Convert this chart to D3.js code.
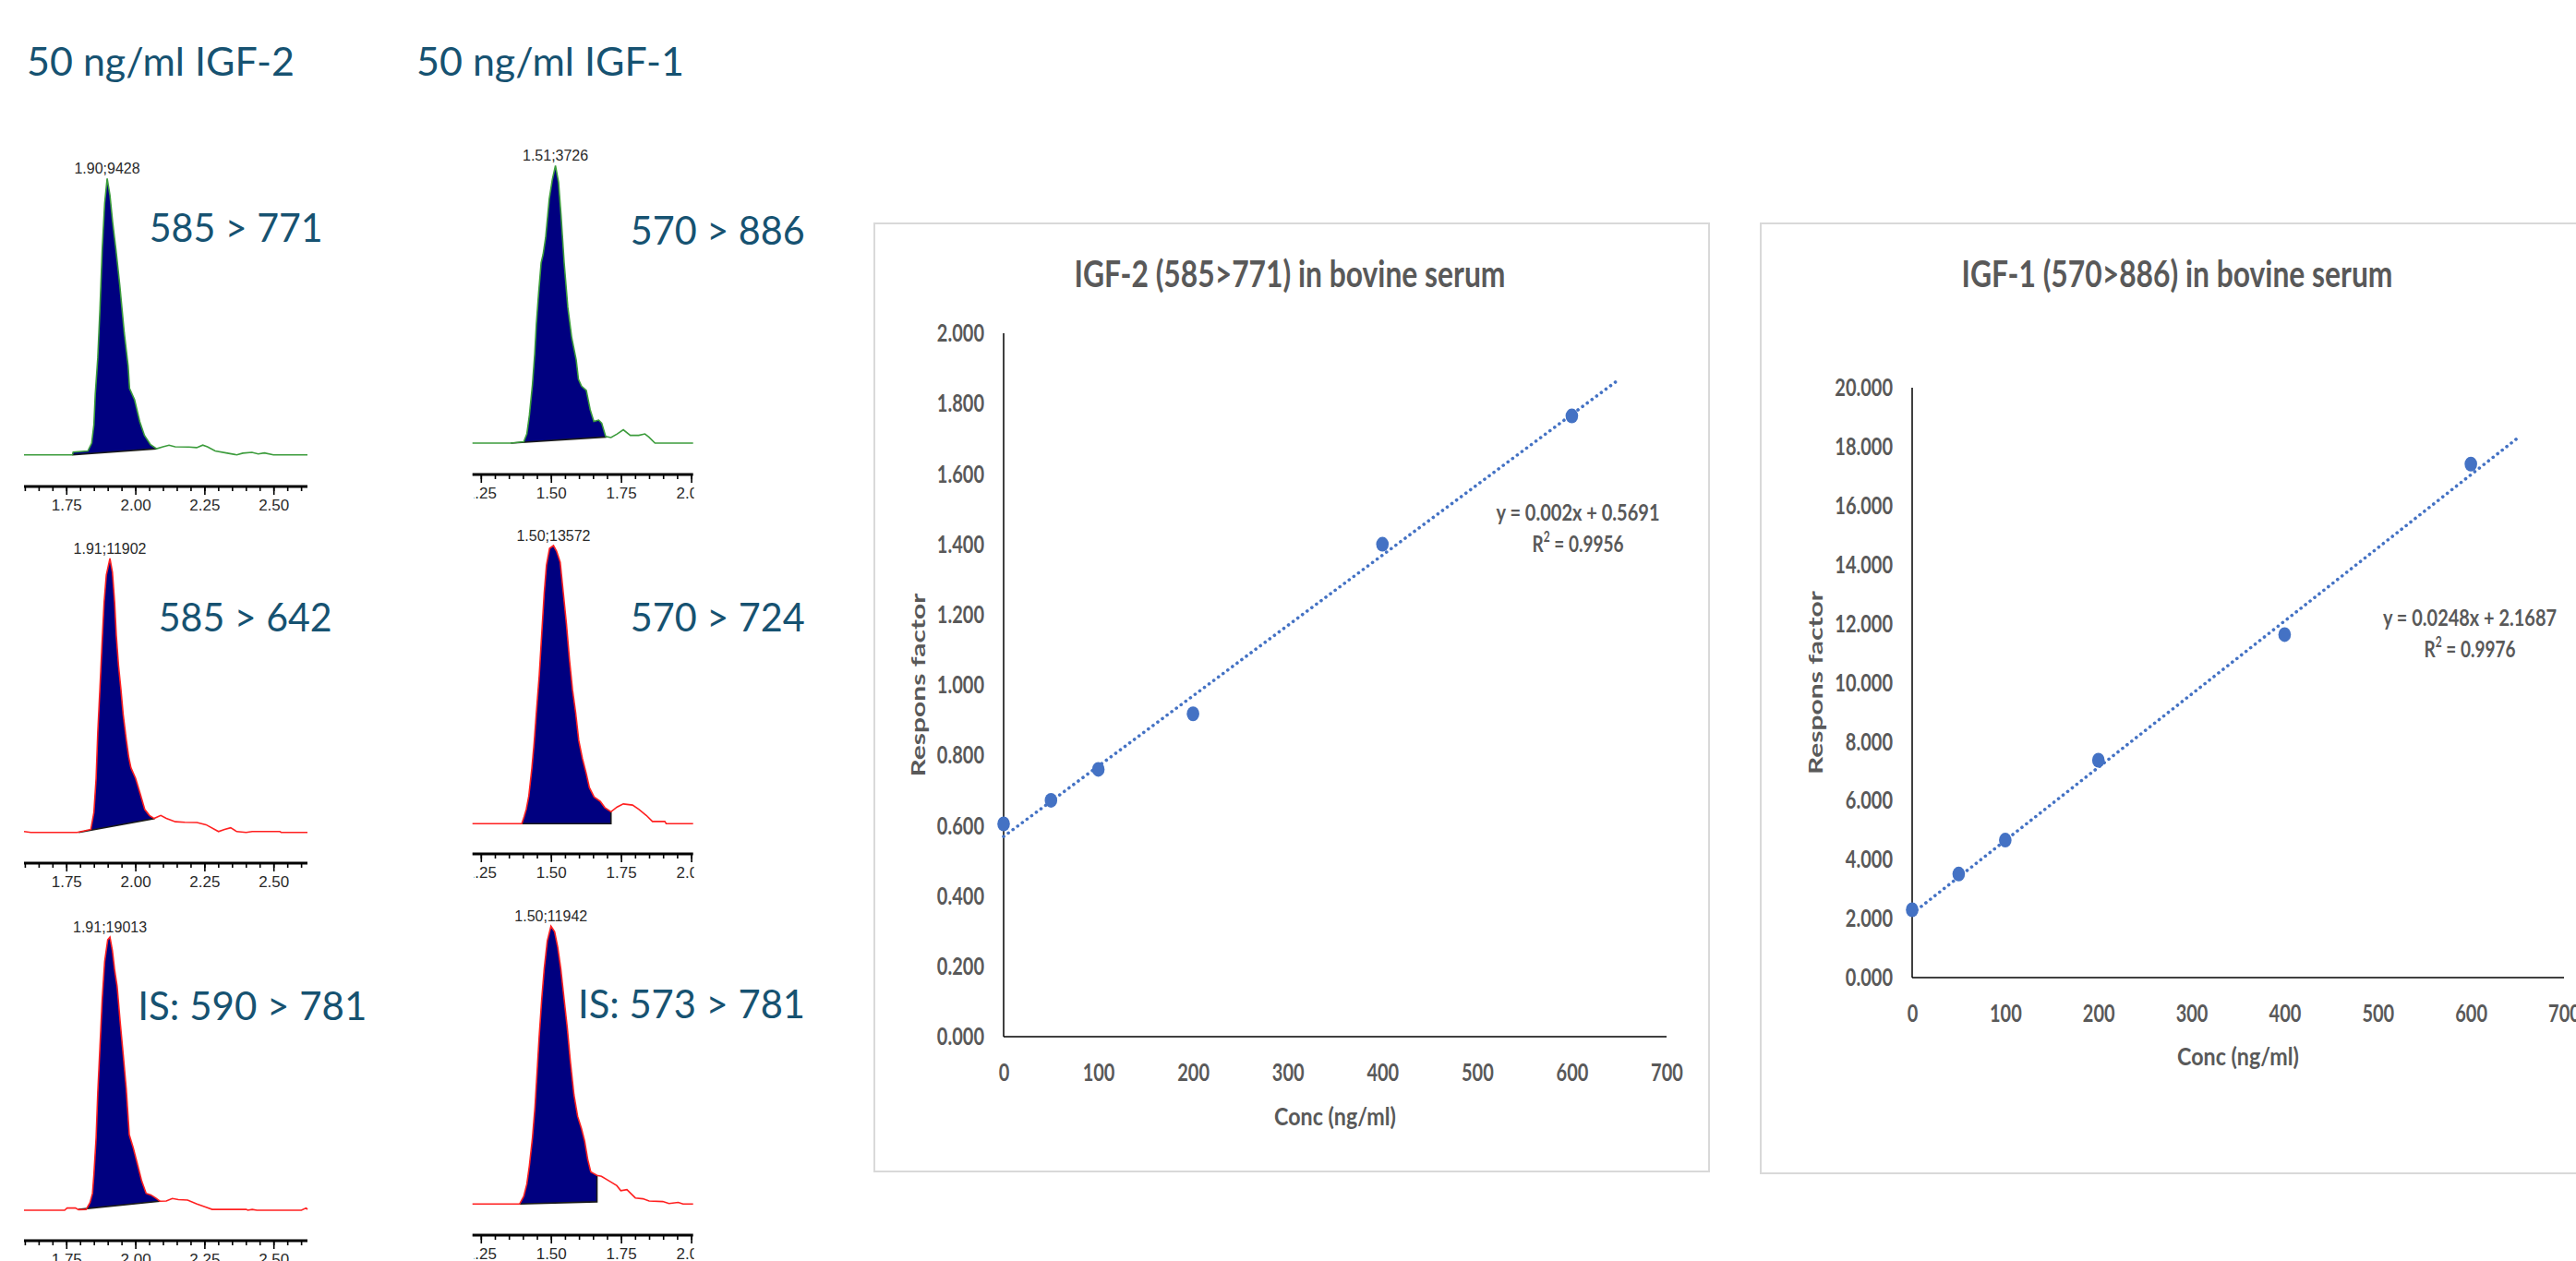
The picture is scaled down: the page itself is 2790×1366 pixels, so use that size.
<!DOCTYPE html>
<html>
<head>
<meta charset="utf-8">
<script src="https://cdn.jsdelivr.net/npm/d3@7"></script>
<style>
  body { margin: 0; background: #fff; }
  svg { display: block; }
</style>
</head>
<body>
<div id="chart"></div>
<script>
// ---- calibration data ----
const conc = [0, 50, 100, 200, 400, 600];
const igf2Resp = [0.605, 0.672, 0.760, 0.918, 1.400, 1.765];
const igf1Resp = [2.30, 3.51, 4.66, 7.37, 11.63, 17.41];
const igf2Fit = [0.002, 0.5691];     // slope, intercept
const igf1Fit = [0.0248, 2.1687];
const fitSpan = [0, 650];
const calXTicks = [0, 100, 200, 300, 400, 500, 600, 700];
const igf2YTicks = [0, 0.2, 0.4, 0.6, 0.8, 1.0, 1.2, 1.4, 1.6, 1.8, 2.0];
const igf1YTicks = [0, 2, 4, 6, 8, 10, 12, 14, 16, 18, 20];
const calTitles = ["IGF-2 (585>771) in bovine serum", "IGF-1 (570>886) in bovine serum"];
const calEquations = [["y = 0.002x + 0.5691", "0.9956"], ["y = 0.0248x + 2.1687", "0.9976"]];

// ---- chromatogram traces: [retention time (min), relative intensity %] ----
const trIgf2_771 = [[1.597,0],[1.772,0],[1.775,1],[1.828,1.4],[1.842,4.2],[1.850,10.9],[1.855,22],[1.864,35],[1.872,53],[1.880,74],[1.889,91],[1.898,100],[1.908,94],[1.918,84],[1.930,74],[1.944,61],[1.960,44],[1.974,32],[1.979,24],[1.997,20],[2.016,12],[2.033,7],[2.055,3.7],[2.077,2.2],[2.100,2.9],[2.122,3.5],[2.144,2.9],[2.194,2.8],[2.222,2.6],[2.244,3.5],[2.261,2.9],[2.289,1.4],[2.333,0.6],[2.367,0],[2.389,0.6],[2.422,0.9],[2.445,0.3],[2.467,0.7],[2.500,0],[2.623,0]];
const trIgf1_886 = [[1.220,0],[1.357,0],[1.403,0.5],[1.414,3.3],[1.423,10],[1.434,21],[1.442,32],[1.448,43],[1.456,54],[1.465,65],[1.472,68],[1.481,74],[1.494,88],[1.505,95],[1.516,100],[1.527,94],[1.536,82],[1.547,65],[1.560,49],[1.574,38],[1.590,30],[1.598,23],[1.609,20.5],[1.626,19],[1.640,12],[1.653,7.8],[1.670,8.3],[1.681,7.2],[1.695,2.4],[1.714,2.0],[1.736,3.3],[1.758,4.8],[1.783,2.8],[1.813,2.8],[1.835,3.3],[1.849,2.2],[1.871,0],[2.007,0]];
const trIgf2_642 = [[1.597,0.3],[1.622,0],[1.789,0],[1.839,1.1],[1.850,7.3],[1.858,19.7],[1.864,36.5],[1.872,53],[1.880,70],[1.887,84],[1.895,94],[1.908,100],[1.917,95],[1.925,84],[1.931,72],[1.939,61],[1.948,52],[1.956,43],[1.967,34],[1.976,27.5],[1.984,23.6],[2.001,19.7],[2.018,14],[2.034,8.4],[2.051,6.2],[2.068,5.1],[2.092,6.2],[2.112,5.1],[2.145,3.9],[2.179,3.7],[2.223,3.6],[2.256,2.8],[2.301,0.3],[2.323,1.1],[2.345,1.7],[2.367,0.3],[2.401,0],[2.423,0.3],[2.523,0.3],[2.528,0],[2.623,0]];
const trIgf1_724 = [[1.220,0],[1.396,0],[1.404,2.4],[1.412,5.2],[1.421,10],[1.432,20],[1.440,29],[1.448,40],[1.458,53],[1.467,68],[1.476,83],[1.484,93],[1.495,99],[1.509,100],[1.520,98],[1.533,94],[1.544,83],[1.555,72],[1.566,59],[1.577,48],[1.588,40],[1.599,30],[1.612,23.5],[1.626,18],[1.637,13],[1.654,9.6],[1.676,8],[1.692,5.8],[1.714,4.3],[1.736,6],[1.758,7.1],[1.791,6.7],[1.813,5.2],[1.840,3],[1.862,0.8],[1.906,0.8],[1.911,0],[2.007,0]];
const trIgf2_IS = [[1.597,0],[1.744,0],[1.753,0.8],[1.783,0.8],[1.794,0.2],[1.822,0.3],[1.836,2.8],[1.845,6.2],[1.850,13],[1.858,26.5],[1.864,43],[1.872,60],[1.880,77],[1.889,91],[1.900,99],[1.908,100],[1.917,95],[1.925,88],[1.934,82],[1.945,69],[1.956,57],[1.967,44.5],[1.978,27.6],[1.992,23],[2.006,17.5],[2.023,10.7],[2.039,6.2],[2.056,5.6],[2.073,4.5],[2.089,3.3],[2.112,3.4],[2.134,4.3],[2.156,3.9],[2.189,3.7],[2.223,2.3],[2.256,1.1],[2.278,0.3],[2.401,0.3],[2.407,0],[2.423,0.3],[2.440,0],[2.601,0],[2.618,0.8],[2.623,0.3]];
const trIgf1_IS = [[1.220,0],[1.388,0],[1.403,2.8],[1.414,7.2],[1.423,13.8],[1.434,23.8],[1.443,34.9],[1.451,48.2],[1.458,60.4],[1.467,73.6],[1.476,84.7],[1.487,94.7],[1.500,100],[1.513,98],[1.524,92.5],[1.535,84.7],[1.547,73.6],[1.558,63.6],[1.569,51.5],[1.582,39.3],[1.595,31.6],[1.609,27.1],[1.620,22.7],[1.631,16.1],[1.642,11.6],[1.664,10.3],[1.680,10],[1.708,8.3],[1.735,6.6],[1.749,4.8],[1.771,5.2],[1.784,3.9],[1.801,2.2],[1.828,1.9],[1.850,1.1],[1.899,0.9],[1.921,0.2],[1.954,0.6],[1.971,0],[2.007,0]];

// integration baselines: [start [t, %], end [t, %]]
const integrations = [
  [[1.772, 0], [2.077, 2.2]],
  [[1.357, 0], [1.695, 2.2]],
  [[1.795, 0], [2.068, 5.0]],
  [[1.396, 0], [1.714, 0]],
  [[1.794, 0.3], [2.089, 3.3]],
  [[1.388, 0], [1.664, 0.8]]
];
const peakLabels = ["1.90;9428", "1.51;3726", "1.91;11902", "1.50;13572", "1.91;19013", "1.50;11942"];
const transitions = ["585 > 771", "570 > 886", "585 > 642", "570 > 724", "IS: 590 > 781", "IS: 573 > 781"];
const headers = ["50 ng/ml IGF-2", "50 ng/ml IGF-1"];
const chromLabelTicks = [[1.75, 2.00, 2.25, 2.50], [1.25, 1.50, 1.75, 2.00]];

// ---- layout ----
const W = 2790, H = 1366;
const TEAL = "#165271", GREEN = "#3c9c3c", RED = "#ff2020", NAVY = "#000080";
const EXCEL_BLUE = "#4472C4", EXCEL_GREY = "#595959";
const SY = 1.35;   // the pasted Excel charts are stretched vertically

const colDomains = [[1.597, 2.623], [1.22, 2.007]];
const colRanges = [[26, 333], [511.7, 750.7]];
const labelClipLeft = [0, 1.5];   // the left label of column 2 shows only ".25"

const panels = [
  { data: trIgf2_771, col: 0, base: 492.7, top: 193.3, axisY: 527, color: GREEN, lab: [161.7, 262, 188] },
  { data: trIgf1_886, col: 1, base: 480, top: 179.3, axisY: 514, color: GREEN, lab: [682.7, 265, 189] },
  { data: trIgf2_642, col: 0, base: 901.7, top: 605, axisY: 935, color: RED, lab: [171.7, 684, 188] },
  { data: trIgf1_724, col: 1, base: 892.3, top: 591, axisY: 925, color: RED, lab: [682.7, 684, 189] },
  { data: trIgf2_IS, col: 0, base: 1311, top: 1015, axisY: 1344, color: RED, lab: [149.3, 1105, 248] },
  { data: trIgf1_IS, col: 1, base: 1304.3, top: 1003.3, axisY: 1338, color: RED, lab: [626, 1103, 246] }
];

const svg = d3.select("#chart")
  .append("svg")
  .attr("width", W)
  .attr("height", H)
  .style("font-family", "Lato, 'Open Sans', sans-serif");

svg.append("rect").attr("width", W).attr("height", H).attr("fill", "#fff");

const defs = svg.append("defs");

// column headers
headers.forEach((h, i) => {
  svg.append("text")
    .attr("x", [29, 451][i])
    .attr("y", 82)
    .attr("font-size", 43)
    .attr("fill", TEAL)
    .attr("textLength", 290)
    .attr("lengthAdjust", "spacingAndGlyphs")
    .text(h);
});

function interpAt(trace, t) {
  for (let i = 1; i < trace.length; i++) {
    const a = trace[i - 1], b = trace[i];
    if (t >= a[0] && t <= b[0]) {
      return a[1] + (b[1] - a[1]) * (t - a[0]) / (b[0] - a[0]);
    }
  }
  return 0;
}

function drawChrom(p, idx) {
  const x = d3.scaleLinear().domain(colDomains[p.col]).range(colRanges[p.col]);
  const y = d3.scaleLinear().domain([0, 100]).range([p.base, p.top]);
  const g = svg.append("g");
  const trace = p.data;
  const [s, e] = integrations[idx];
  const baseAt = t => s[1] + (e[1] - s[1]) * (t - s[0]) / (e[0] - s[0]);

  const peak = [[s[0], interpAt(trace, s[0])]]
    .concat(trace.filter(d => d[0] > s[0] && d[0] < e[0]))
    .concat([[e[0], interpAt(trace, e[0])]]);

  g.append("path")
    .datum(peak)
    .attr("d", d3.area().x(d => x(d[0])).y0(d => y(baseAt(d[0]))).y1(d => y(d[1])))
    .attr("fill", NAVY);

  // integration baseline + drop line
  g.append("path")
    .datum([[e[0], interpAt(trace, e[0])], e, s])
    .attr("d", d3.line().x(d => x(d[0])).y(d => y(d[1])))
    .attr("fill", "none")
    .attr("stroke", "#1a1a1a")
    .attr("stroke-width", 1.6);

  g.append("path")
    .datum(trace)
    .attr("d", d3.line().x(d => x(d[0])).y(d => y(d[1])))
    .attr("fill", "none")
    .attr("stroke", p.color)
    .attr("stroke-width", 1.6);

  // apex label
  const apex = trace.reduce((m, d) => d[1] > m[1] ? d : m, trace[0]);
  g.append("text")
    .attr("x", x(apex[0]))
    .attr("y", y(apex[1]) - 5)
    .attr("text-anchor", "middle")
    .attr("font-family", "'Liberation Sans', Arial, sans-serif")
    .attr("font-size", 16)
    .attr("fill", "#2a2a2a")
    .text(peakLabels[idx]);

  // time axis
  const [r0, r1] = colRanges[p.col];
  const ag = g.append("g").attr("transform", `translate(0,${p.axisY})`);

  const [d0, d1] = colDomains[p.col];
  const minor = d3.range(Math.ceil(d0 / 0.05), Math.floor(d1 / 0.05) + 1).map(k => +(k * 0.05).toFixed(2));

  const mg = ag.append("g");
  mg.call(d3.axisBottom(x).tickValues(minor).tickSize(5).tickSizeOuter(0).tickFormat(""));
  mg.select(".domain").remove();

  // labels are clipped at the panel edges, as in the instrument export
  const clipId = "clip" + idx;
  const cl = labelClipLeft[p.col];
  defs.append("clipPath").attr("id", clipId)
    .append("rect")
    .attr("x", r0 + cl).attr("y", -5)
    .attr("width", r1 - r0 - cl + 1).attr("height", 60);

  const lg = ag.append("g").attr("clip-path", `url(#${clipId})`);
  lg.call(d3.axisBottom(x)
    .tickValues(chromLabelTicks[p.col])
    .tickSize(9)
    .tickSizeOuter(0)
    .tickFormat(d3.format(".2f")));
  lg.select(".domain").remove();
  lg.selectAll("text")
    .attr("y", 26)
    .attr("dy", null)
    .attr("font-family", "'Liberation Sans', Arial, sans-serif")
    .attr("font-size", 17)
    .attr("fill", "#2a2a2a");
  ag.selectAll("line").attr("stroke", "#000").attr("stroke-width", 1.6);

  g.append("line")
    .attr("x1", r0).attr("x2", r1)
    .attr("y1", p.axisY).attr("y2", p.axisY)
    .attr("stroke", "#000")
    .attr("stroke-width", 3);

  // transition label
  svg.append("text")
    .attr("x", p.lab[0])
    .attr("y", p.lab[1])
    .attr("font-size", 43)
    .attr("fill", TEAL)
    .attr("textLength", p.lab[2])
    .attr("lengthAdjust", "spacingAndGlyphs")
    .text(transitions[idx]);
}

panels.forEach(drawChrom);

// ---- calibration charts ----
const calCharts = [
  { resp: igf2Resp, fit: igf2Fit, yTicks: igf2YTicks, yMax: 2, frame: [947, 242, 904, 1027],
    xr: [1087, 1805], yr: [1123, 361], titleX: 1397, yLabX: 1002, eqX: 1709, eqY: [563.5, 598],
    eqLen: 177, xTitleY: 1219 },
  { resp: igf1Resp, fit: igf1Fit, yTicks: igf1YTicks, yMax: 20, frame: [1907, 242, 1000, 1029],
    xr: [2071, 2777], yr: [1059, 420], titleX: 2358, yLabX: 1974, eqX: 2675, eqY: [678, 711.5],
    eqLen: 188, xTitleY: 1154 }
];

function stretched(sel) {
  return sel.attr("font-weight", 700).attr("fill", EXCEL_GREY);
}

calCharts.forEach((c, i) => {
  const g = svg.append("g");
  g.append("rect")
    .attr("x", c.frame[0]).attr("y", c.frame[1])
    .attr("width", c.frame[2]).attr("height", c.frame[3])
    .attr("fill", "#fff")
    .attr("stroke", "#d9d9d9")
    .attr("stroke-width", 2);

  const x = d3.scaleLinear().domain([0, 700]).range(c.xr);
  const y = d3.scaleLinear().domain([0, c.yMax]).range(c.yr);

  stretched(g.append("text"))
    .attr("transform", `translate(${c.titleX},311) scale(1,${SY})`)
    .attr("text-anchor", "middle")
    .attr("font-size", 29)
    .attr("textLength", 467)
    .attr("lengthAdjust", "spacingAndGlyphs")
    .text(calTitles[i]);

  // y tick labels
  const ya = g.append("g").attr("transform", `translate(${x(0)},0)`)
    .call(d3.axisLeft(y).tickValues(c.yTicks).tickSize(0).tickPadding(21).tickFormat(d3.format(".3f")));
  ya.select(".domain").remove();
  stretched(ya.selectAll("text"))
    .attr("font-family", "Lato, sans-serif")
    .attr("font-size", 20)
    .attr("transform", `scale(1,${SY})`);

  const xa = g.append("g").attr("transform", `translate(0,${y(0)})`)
    .call(d3.axisBottom(x).tickValues(calXTicks).tickSize(0).tickFormat(d3.format("d")));
  xa.select(".domain").remove();
  stretched(xa.selectAll("text"))
    .attr("font-family", "Lato, sans-serif")
    .attr("font-size", 20)
    .attr("y", null)
    .attr("dy", "0.36em")
    .attr("transform", `translate(0,38) scale(1,${SY})`);

  // axis lines
  g.append("line")
    .attr("x1", x(0)).attr("x2", x(0))
    .attr("y1", y(c.yMax)).attr("y2", y(0))
    .attr("stroke", "#000").attr("stroke-width", 1.5);
  g.append("line")
    .attr("x1", x(0)).attr("x2", x(700))
    .attr("y1", y(0)).attr("y2", y(0))
    .attr("stroke", "#000").attr("stroke-width", 1.5);

  // axis titles
  stretched(g.append("text"))
    .attr("transform", `translate(${(c.xr[0] + c.xr[1]) / 2},${c.xTitleY}) scale(1,${SY})`)
    .attr("text-anchor", "middle")
    .attr("font-size", 20)
    .attr("textLength", 132)
    .attr("lengthAdjust", "spacingAndGlyphs")
    .text("Conc (ng/ml)");

  stretched(g.append("text"))
    .attr("transform", `translate(${c.yLabX},${(c.yr[0] + c.yr[1]) / 2}) rotate(-90)`)
    .attr("text-anchor", "middle")
    .attr("font-size", 20)
    .attr("textLength", 199)
    .attr("lengthAdjust", "spacingAndGlyphs")
    .text("Respons factor");

  // trendline
  const [m, b] = c.fit;
  g.append("path")
    .datum(fitSpan.map(v => [v, m * v + b]))
    .attr("d", d3.line().x(d => x(d[0])).y(d => y(d[1])))
    .attr("fill", "none")
    .attr("stroke", EXCEL_BLUE)
    .attr("stroke-width", 3.6)
    .attr("stroke-linecap", "round")
    .attr("stroke-dasharray", "0.1 6.2");

  // data points
  g.selectAll("ellipse.pt")
    .data(conc.map((v, k) => [v, c.resp[k]]))
    .join("ellipse")
    .attr("class", "pt")
    .attr("cx", d => x(d[0]))
    .attr("cy", d => y(d[1]))
    .attr("rx", 6.8)
    .attr("ry", 8)
    .attr("fill", EXCEL_BLUE);

  // equation
  stretched(g.append("text"))
    .attr("transform", `translate(${c.eqX},${c.eqY[0]}) scale(1,${SY})`)
    .attr("text-anchor", "middle")
    .attr("font-size", 19)
    .attr("textLength", c.eqLen)
    .attr("lengthAdjust", "spacingAndGlyphs")
    .text(calEquations[i][0]);

  const r2 = stretched(g.append("text"))
    .attr("transform", `translate(${c.eqX},${c.eqY[1]}) scale(1,${SY})`)
    .attr("text-anchor", "middle")
    .attr("font-size", 19);
  r2.append("tspan").text("R");
  r2.append("tspan").attr("font-size", 12).attr("dy", -8).text("2");
  r2.append("tspan").attr("dy", 8).text(" = " + calEquations[i][1]);
});
</script>
</body>
</html>
